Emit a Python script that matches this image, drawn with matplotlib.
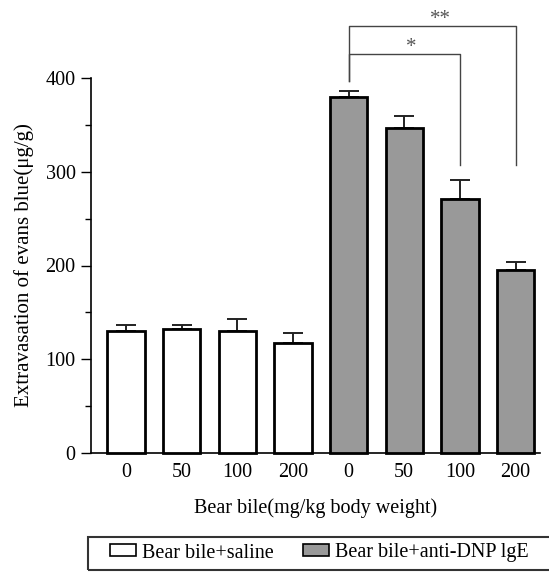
import matplotlib
matplotlib.use("Agg")
import matplotlib.pyplot as plt
from matplotlib.patches import Patch, Rectangle

plt.rcParams['font.family'] = ['Liberation Serif', 'DejaVu Serif']

# Dose groups (mg/kg) and measured extravasation (mean, upper SE)
doses = ["0", "50", "100", "200"]
saline_mean = [130, 132.5, 130.5, 117.5]
saline_err = [7, 4.5, 12.5, 10.5]
ige_mean = [380, 347, 271, 195.5]
ige_err = [6, 12, 20, 8.5]

W, H = 549, 574
fig = plt.figure(figsize=(W / 100, H / 100), dpi=100)
ax = fig.add_axes([91 / W, 1 - 453 / H, (540 - 91) / W, (453 - 78) / H])

xs_saline = list(range(4))
xs_ige = list(range(4, 8))
bar_w = 0.67
ax.bar(xs_saline, saline_mean, width=bar_w, color="white", edgecolor="black",
       linewidth=2, zorder=3, clip_on=False)
ax.bar(xs_ige, ige_mean, width=bar_w, color="#999999", edgecolor="black",
       linewidth=2, zorder=3, clip_on=False)

err_kw = dict(fmt="none", ecolor="#222222", elinewidth=1.4, capsize=7.2,
              capthick=1.4, zorder=2, clip_on=False)
ax.errorbar(xs_saline, saline_mean, yerr=[[0] * 4, saline_err], **err_kw)
ax.errorbar(xs_ige, ige_mean, yerr=[[0] * 4, ige_err], **err_kw)

ax.set_xlim(-0.63, 7.44)
ax.set_ylim(0, 400)
ax.set_yticks([0, 100, 200, 300, 400])
ax.set_yticks([50, 150, 250, 350], minor=True)
ax.set_xticks(xs_saline + xs_ige)
ax.set_xticklabels(doses + doses)
ax.tick_params(axis="y", which="major", direction="out", length=7, width=1,
               labelsize=14.5, pad=4)
ax.tick_params(axis="y", which="minor", direction="out", length=4, width=1)
ax.tick_params(axis="x", length=0, labelsize=14.5, pad=7)
for s in ("top", "right"):
    ax.spines[s].set_visible(False)
for s in ("left", "bottom"):
    ax.spines[s].set_linewidth(1.2)

ax.set_ylabel("Extravasation of evans blue(\u03bcg/g)", fontsize=15, labelpad=8)
ax.set_xlabel("Bear bile(mg/kg body weight)", fontsize=14.5, labelpad=12)

# Significance brackets
line_kw = dict(color="#444444", linewidth=1, clip_on=False)
ax.plot([4, 4, 7, 7], [397, 456, 456, 307.5], **line_kw)
ax.plot([4, 4, 6, 6], [397, 426, 426, 307.5], **line_kw)
ax.text(5.66, 458, "**", ha="center", va="baseline", fontsize=15,
        color="#555555", clip_on=False)
ax.text(5.13, 428, "*", ha="center", va="baseline", fontsize=15,
        color="#555555", clip_on=False)

# Legend box along the bottom
fig.patches.append(Rectangle((88 / W, 1 - 570 / H), 470 / W, 33 / H,
                             transform=fig.transFigure, fill=False,
                             edgecolor="#333333", linewidth=1.5))
handles = [Patch(facecolor="white", edgecolor="black", linewidth=1.2,
                 label="Bear bile+saline"),
           Patch(facecolor="#999999", edgecolor="black", linewidth=1.2,
                 label="Bear bile+anti-DNP lgE")]
fig.legend(handles=handles, loc="center left",
           bbox_to_anchor=(110 / W, 1 - 553 / H), ncol=2, frameon=False,
           fontsize=14.5, handlelength=1.3, handleheight=0.55,
           handletextpad=0.3, columnspacing=1.45, borderaxespad=0,
           borderpad=0)

fig.savefig("out.png", dpi=100)
